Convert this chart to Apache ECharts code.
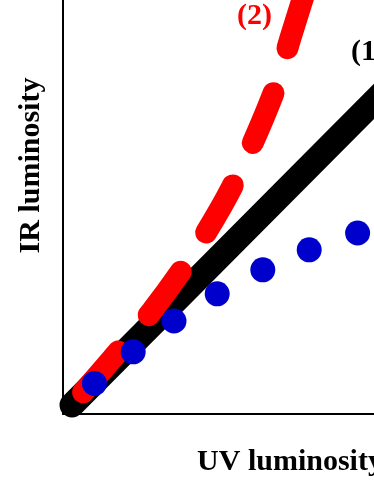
<!DOCTYPE html>
<html>
<head>
<meta charset="utf-8">
<script src="https://cdn.jsdelivr.net/npm/echarts@6/dist/echarts.min.js"></script>
<style>
  html, body { margin: 0; padding: 0; background: #fff; overflow: hidden; width: 374px; height: 484px; }
  #chart { position: absolute; left: 0; top: -100px; width: 560px; height: 584px; }
</style>
</head>
<body>
<div id="chart"></div>
<script>
// model (1): linear
const linearX = [0, 9.2]
const linearY = [0, 9.25]
// model (2): steepening, dashed
const steepX = [0, 1, 2, 3, 4, 5, 5.5, 6]
const steepY = [0, 1.15, 2.35, 3.75, 5.45, 7.7, 9.3, 10.9]
// observed points, flattening
const obsX = [0.56, 1.53, 2.55, 3.63, 4.77, 5.93, 7.14]
const obsY = [0.54, 1.33, 2.1, 2.78, 3.38, 3.88, 4.3]

const xName = 'UV luminosity'
const yName = 'IR luminosity'
const labels = [
  { text: '(2)', color: '#FF0000', x: 237, y: 116 },
  { text: '(1)', color: '#000000', x: 351, y: 152 }
]

const zip = (xs, ys) => xs.map((x, i) => [x, ys[i]])
const font = '"Liberation Serif", "Times New Roman", serif'

const chart = echarts.init(document.getElementById('chart'))

const axisCommon = {
  type: 'value',
  nameLocation: 'middle',
  nameTextStyle: { fontFamily: font, fontWeight: 'bold', fontSize: 30, color: '#000' },
  axisLine: { show: true, onZero: false, lineStyle: { color: '#000', width: 2 } },
  axisTick: { show: false },
  axisLabel: { show: false },
  splitLine: { show: false }
}

chart.setOption({
  animation: false,
  backgroundColor: '#fff',
  grid: { left: 63, top: 17, width: 454, height: 497 },
  xAxis: { ...axisCommon, name: xName, nameGap: 33, min: -0.225, max: 11.125 },
  yAxis: { ...axisCommon, name: yName, nameGap: 17, min: -0.225, max: 12.2 },
  graphic: labels.map(l => ({
    type: 'text',
    x: l.x,
    y: l.y,
    style: {
      text: l.text,
      fill: l.color,
      font: 'bold 30px ' + font,
      align: 'left',
      verticalAlign: 'middle'
    }
  })),
  series: [
    {
      type: 'line',
      data: zip(linearX, linearY),
      showSymbol: false,
      symbol: 'none',
      z: 1,
      lineStyle: { color: '#000', width: 25, cap: 'round' }
    },
    {
      type: 'line',
      data: zip(steepX, steepY),
      smooth: 0.3,
      showSymbol: false,
      symbol: 'none',
      z: 2,
      lineStyle: { color: '#FF0000', width: 22, cap: 'round', type: [54, 47], dashOffset: 84 }
    },
    {
      type: 'scatter',
      data: zip(obsX, obsY),
      symbol: 'circle',
      symbolSize: 25,
      z: 3,
      itemStyle: { color: '#0000CC', opacity: 1 }
    }
  ]
})
</script>
</body>
</html>
